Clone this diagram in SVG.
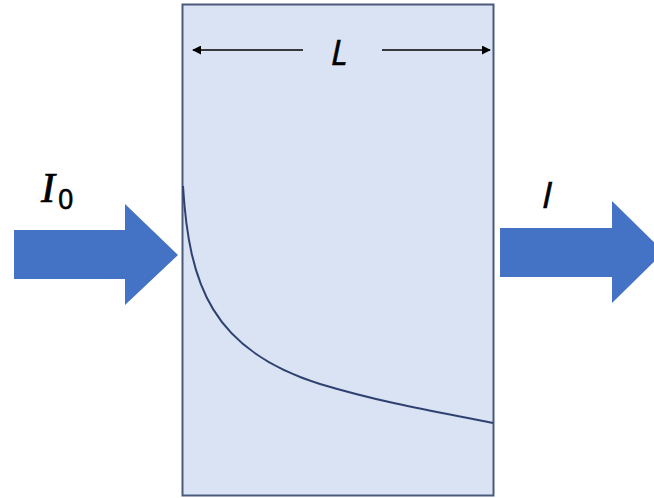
<svg xmlns="http://www.w3.org/2000/svg" width="654" height="498" viewBox="0 0 654 498">
<defs>
<style>
.arrow{fill:#4472c4;}
.dim{stroke:#000;stroke-width:1.3;fill:none;}
.lbl{fill:#000;stroke:#000;stroke-width:0.7;}
</style>
<marker id="ah" viewBox="0 0 10 10" refX="9" refY="5" markerWidth="9" markerHeight="9" markerUnits="userSpaceOnUse" orient="auto"><path d="M0,0 L10,5 L0,10 z" fill="#000"/></marker>
</defs>
<rect width="654" height="498" fill="#fff"/>
<g id="medium">
<rect x="182.5" y="4.5" width="311" height="491" fill="#dae3f3" stroke="#4a5a7c" stroke-width="2"/>
</g>
<g id="curve">
<path d="M183,186 C189,285 212,350 320,384 C390,405 450,414 493,423" fill="none" stroke="#2f4170" stroke-width="2"/>
</g>
<g id="connectors">
<line class="dim" x1="303" y1="50" x2="193" y2="50" marker-end="url(#ah)"/>
<line class="dim" x1="382" y1="50" x2="490" y2="50" marker-end="url(#ah)"/>
</g>
<g id="input-arrow">
<polygon class="arrow" points="14,230 125,230 125,204 178,255 125,305 125,279 14,279"/>
</g>
<g id="output-arrow">
<polygon class="arrow" points="500,228 612,228 612,201 664,252 612,303 612,277 500,277"/>
</g>
<g id="labels">
<text class="lbl" x="331" y="65" font-family="Open Sans, sans-serif" font-style="italic" font-size="34">L</text>
<text class="lbl" x="41" y="202" font-family="Liberation Serif, serif" font-style="italic" font-size="42">I</text>
<text class="lbl" x="58" y="209" font-family="Open Sans, sans-serif" font-size="27" stroke-width="0.4">0</text>
<text class="lbl" x="542" y="208" font-family="Open Sans, sans-serif" font-style="italic" font-size="36">I</text>
</g>
</svg>
